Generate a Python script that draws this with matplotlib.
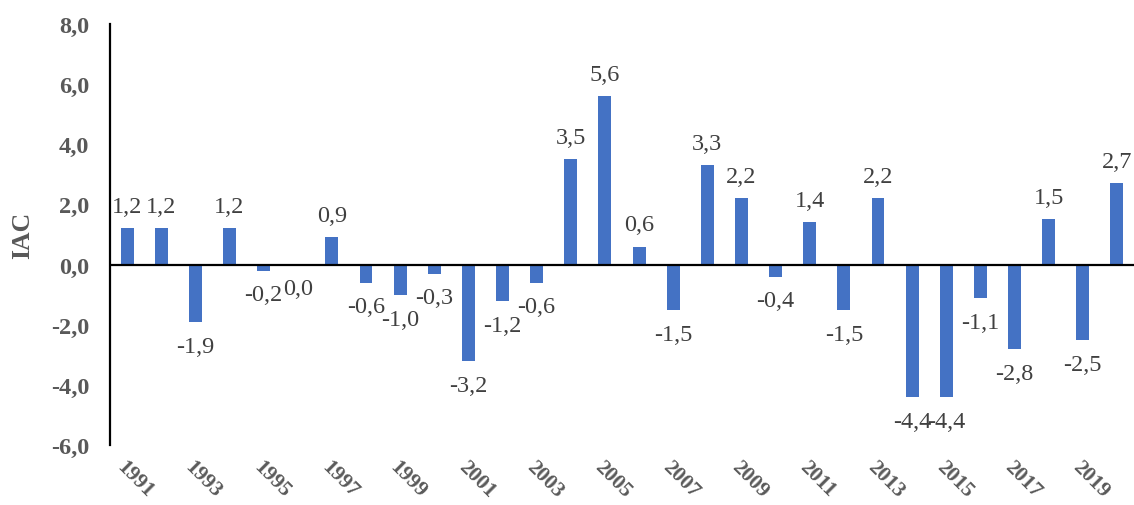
import matplotlib.pyplot as plt
import matplotlib.transforms as mtransforms

# =========================
# DATOS
# =========================

years = list(range(1991, 2021))
iac = [1.2, 1.2, -1.9, 1.2, -0.2, 0.0, 0.9, -0.6, -1.0, -0.3,
       -3.2, -1.2, -0.6, 3.5, 5.6, 0.6, -1.5, 3.3, 2.2, -0.4,
       1.4, -1.5, 2.2, -4.4, -4.4, -1.1, -2.8, 1.5, -2.5, 2.7]
y_ticks = [-6, -4, -2, 0, 2, 4, 6, 8]

# =========================
# GRAFICA
# =========================

plt.rcParams["font.family"] = ["Liberation Serif", "DejaVu Serif"]

fig = plt.figure(figsize=(11.34, 5.06), dpi=100)
ax = fig.add_axes([0.097, 0.1186, 0.903, 0.832])

x = list(range(len(years)))
ax.bar(x, iac, width=0.38, color="#4472C4", zorder=2)
ax.axhline(0, color="black", linewidth=1.6, zorder=3)

for xi, v in zip(x, iac):
    txt = f"{v:.1f}".replace(".", ",")
    if v > 0:
        ax.annotate(txt, (xi, v), xytext=(0, 8), textcoords="offset points",
                    ha="center", va="bottom", fontsize=17.5, color="#404040")
    else:
        ax.annotate(txt, (xi, v), xytext=(0, -10), textcoords="offset points",
                    ha="center", va="top", fontsize=17.5, color="#404040")

ax.set_xlim(-0.5, len(years) - 0.5)
ax.set_ylim(-6, 8)
ax.set_yticks(y_ticks)
ax.set_yticklabels([f"{t:.1f}".replace(".", ",") for t in y_ticks],
                   fontsize=17.5, fontweight="bold", color="#595959")

ax.set_xticks(x[::2])
ax.set_xticklabels([str(y) for y in years[::2]], rotation=-45, ha="left",
                   va="top", rotation_mode="anchor", fontsize=15.5,
                   fontweight="bold", color="#595959")
shift = mtransforms.ScaledTranslation(5 / 100, 0, fig.dpi_scale_trans)
for lbl in ax.get_xticklabels():
    lbl.set_transform(lbl.get_transform() + shift)

ax.tick_params(axis="both", length=0)
ax.tick_params(axis="y", pad=15)
ax.tick_params(axis="x", pad=8)

for side in ["top", "right", "bottom"]:
    ax.spines[side].set_visible(False)
ax.spines["left"].set_linewidth(1.6)
ax.spines["left"].set_color("black")

fig.text(23 / 1134, 0.535, "IAC", rotation=90, ha="center", va="center",
         fontsize=18.5, fontweight="bold", color="#595959")

fig.savefig("out.png", dpi=100)
plt.close()
